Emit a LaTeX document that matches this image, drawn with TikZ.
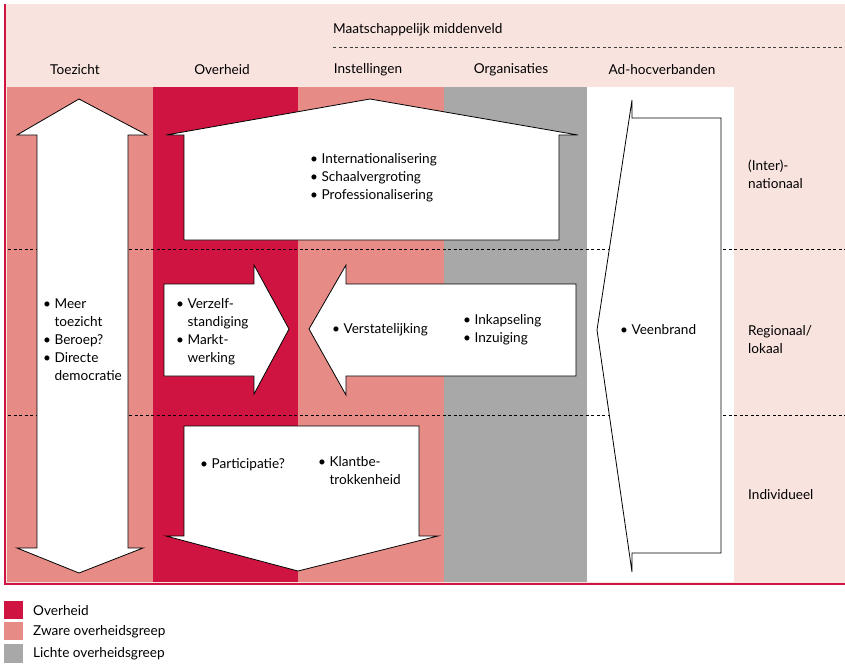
\documentclass[tikz,border=0pt]{standalone}
\usepackage{fontspec}
\setmainfont{Lato}
\definecolor{crim}{HTML}{D01442}
\definecolor{salmon}{HTML}{E68B86}
\definecolor{lgray}{HTML}{A8A8A8}
\definecolor{bgpink}{HTML}{F9E3DF}
\newcommand{\bl}{\textbullet\ }
\newcommand{\ind}{\phantom{\textbullet\ }}
\begin{document}
\begin{tikzpicture}[x=1pt,y=-1pt,
  txt/.style={font=\fontsize{13.6}{18}\selectfont, inner sep=0pt, align=left},
  hdr/.style={font=\fontsize{13.6}{18}\selectfont, inner sep=0pt},
  shp/.style={fill=white, draw=black, line width=0.8pt, line join=miter},
  lvl/.style={dashed, dash pattern=on 3pt off 2.5pt, line width=0.6pt},
  leg/.style={font=\fontsize{13.6}{18}\selectfont, inner sep=0pt, anchor=west}]
\useasboundingbox (0,0) rectangle (845,665);
% background
\fill[bgpink] (5,4) rectangle (845,583);
\fill[salmon] (7,87) rectangle (153,582);
\fill[crim] (153,87) rectangle (298,582);
\fill[salmon] (298,87) rectangle (444,582);
\fill[lgray] (444,87) rectangle (587,582);
\fill[white] (587,87) rectangle (734,582);
\draw[crim, line width=2pt] (5,4) -- (5,584) -- (845,584);
% level lines
\draw[lvl] (8,249) -- (845,249);
\draw[lvl] (8,415) -- (845,415);
\draw[lvl, black!75] (333,47) -- (845,47);
% header
\node[hdr, anchor=west] (mm) at (333,30) {Maatschappelijk middenveld};
\node[hdr] (h1) at (75,70) {Toezicht};
\node[hdr] (h2) at (222,70) {Overheid};
\node[hdr] (h3) at (368,70) {Instellingen};
\node[hdr] (h4) at (511,70) {Organisaties};
\node[hdr] (h5) at (662,70) {Ad-hocverbanden};
% right labels
\node[txt, anchor=west] (r1) at (748,174) {(Inter)-\\nationaal};
\node[txt, anchor=west] (r2) at (748,340) {Regionaal/\\lokaal};
\node[txt, anchor=west] (r3) at (748,495) {Individueel};
% double arrow toezicht
\draw[shp] (79,99) -- (147,135) -- (128,135) -- (128,548) -- (143,548) -- (79,573)
  -- (17,548) -- (37,548) -- (37,135) -- (17,135) -- cycle;
% top arrow
\draw[shp] (370,99) -- (578,135) -- (559,135) -- (559,240) -- (184,240) -- (184,135) -- (166,135) -- cycle;
% right arrow
\draw[shp] (164,284) -- (254,284) -- (254,265) -- (289,329) -- (254,394) -- (254,376) -- (164,376) -- cycle;
% left arrow
\draw[shp] (309,329) -- (346,265) -- (346,284) -- (576,284) -- (576,376) -- (346,376) -- (346,395) -- cycle;
% bottom arrow
\draw[shp] (184,426) -- (419,426) -- (419,536) -- (438,536) -- (298,571) -- (166,536) -- (184,536) -- cycle;
% veenbrand arrow
\draw[shp] (632,100) -- (632,118) -- (721,118) -- (721,553) -- (632,553) -- (632,572) -- (597,330) -- cycle;
% texts
\node[txt, anchor=west] (t1) at (43,340) {\bl Meer\\\ind toezicht\\\bl Beroep?\\\bl Directe\\\ind democratie};
\node[txt, anchor=west] (t2) at (310,178) {\bl Internationalisering\\\bl Schaalvergroting\\\bl Professionalisering};
\node[txt, anchor=west] (t3) at (176,332) {\bl Verzelf-\\\ind standiging\\\bl Markt-\\\ind werking};
\node[txt, anchor=west] (t4) at (332,330) {\bl Verstatelijking};
\node[txt, anchor=west] (t5) at (463,330) {\bl Inkapseling\\\bl Inzuiging};
\node[txt, anchor=west] (t6) at (200,465) {\bl Participatie?};
\node[txt, anchor=north west] (t7) at (318,456) {\bl Klantbe-\\\ind trokkenheid};
\node[txt, anchor=west] (t8) at (620,330) {\bl Veenbrand};
% legend
\fill[crim] (4,601) rectangle (23,619);
\fill[salmon] (4,622) rectangle (23,640);
\fill[lgray] (4,644) rectangle (23,663);
\node[leg] (l1) at (33,611) {Overheid};
\node[leg] (l2) at (33,632) {Zware overheidsgreep};
\node[leg] (l3) at (33,654) {Lichte overheidsgreep};
\end{tikzpicture}
\end{document}
